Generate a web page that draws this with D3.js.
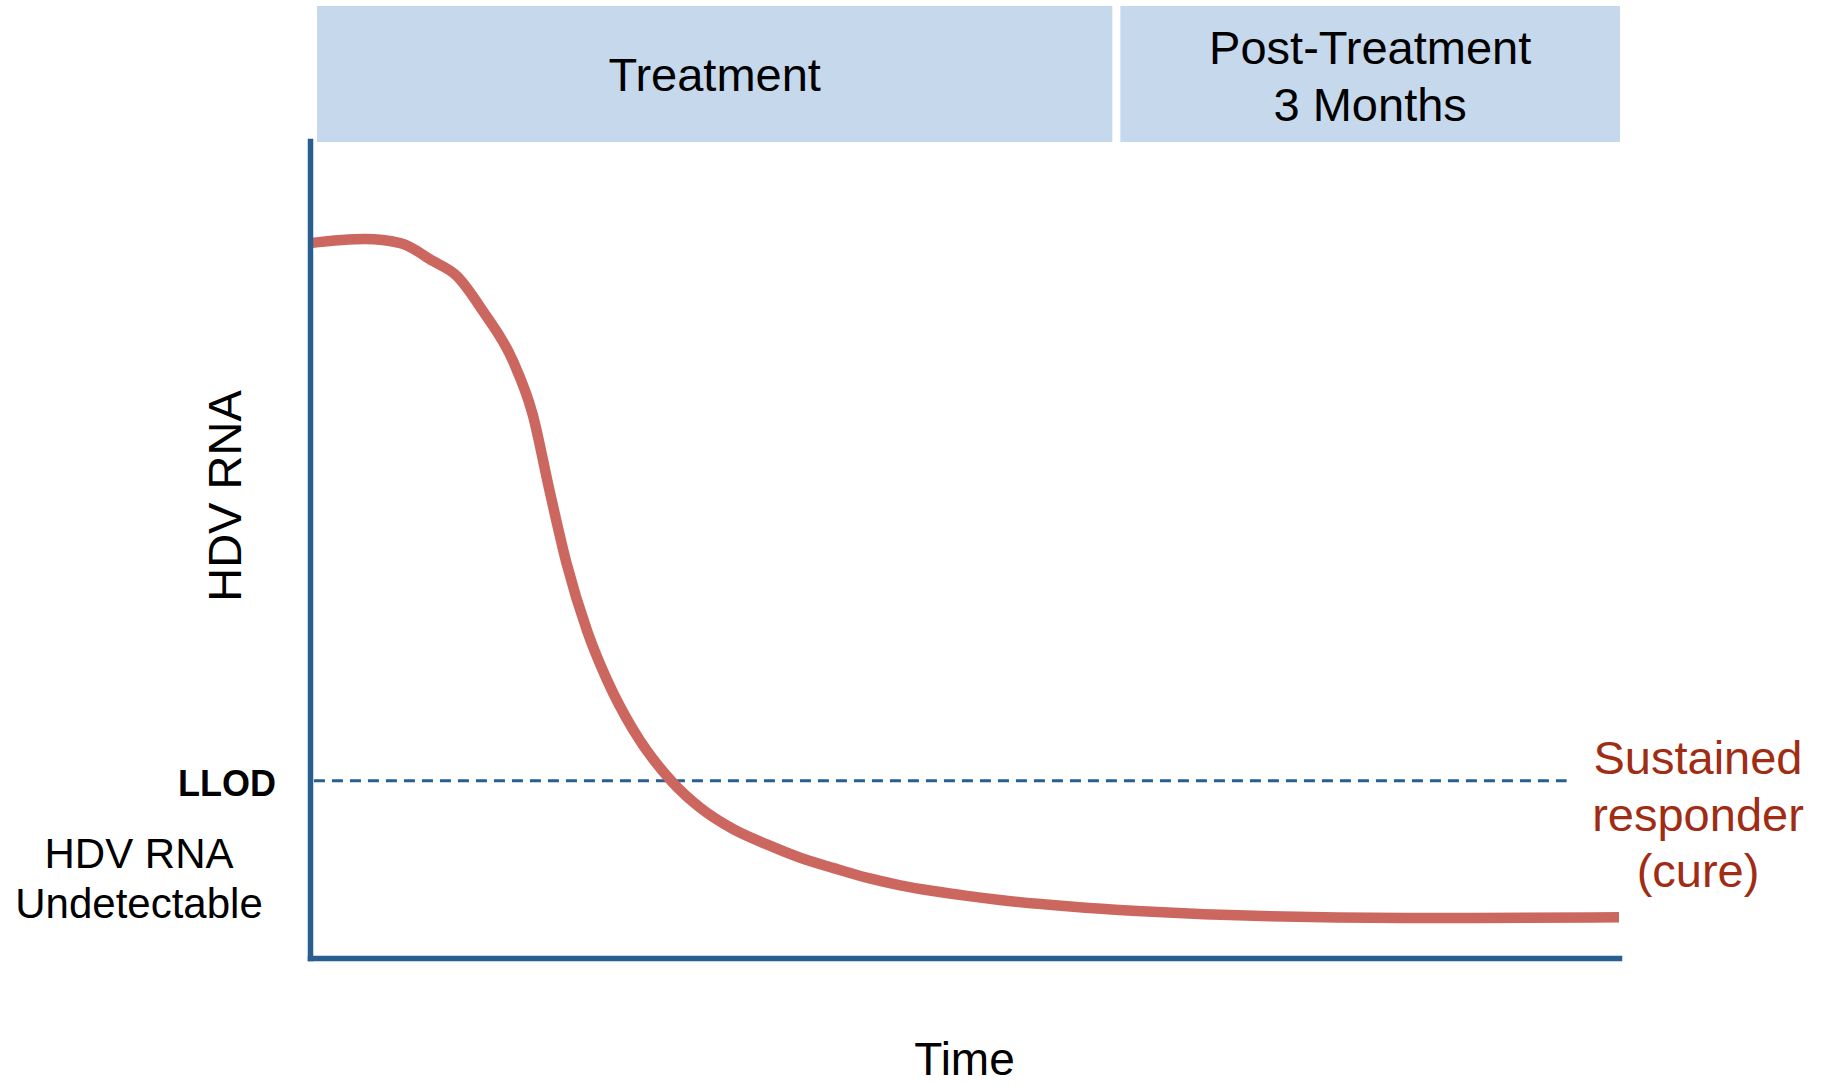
<!DOCTYPE html>
<html>
<head>
<meta charset="utf-8">
<script src="https://cdn.jsdelivr.net/npm/d3@7"></script>
<style>
  html, body { margin: 0; padding: 0; background: #ffffff; }
  svg { display: block; }
  text { font-family: "Liberation Sans", Arial, sans-serif; }
</style>
</head>
<body>
<svg id="chart" width="1826" height="1084"></svg>
<script>
// ---- data ----
const timePoints = [0, 4.2, 6.9, 9.4, 11.2, 13.2, 15.5, 17.0, 18.3, 19.6, 21.2, 22.7, 24.7, 27.7, 29.8, 32.3, 34.9, 37.4, 40.0, 42.6, 45.1, 47.6, 50.2, 52.7, 58.1, 63.2, 68.3, 73.4, 78.5, 83.7, 88.8, 100];
const hdvRna     = [87.5, 88.0, 87.5, 85.3, 83.5, 79.2, 73.1, 66.6, 57.2, 48.3, 39.9, 34.0, 27.9, 21.5, 18.4, 15.8, 13.9, 12.3, 11.0, 9.8, 8.9, 8.2, 7.6, 7.1, 6.3, 5.75, 5.35, 5.1, 4.95, 4.9, 4.9, 5.0];
const llodValue = 21.7;
const llodStart = 0.3, llodEnd = 96.0;
const phaseLabels = [["Treatment"], ["Post-Treatment", "3 Months"]];
const phaseStart = [0, 61.6];
const phaseEnd = [61.6, 100];
const yAxisLabel = "HDV RNA";
const xAxisLabel = "Time";
const llodLabel = "LLOD";
const undetectableLabel = ["HDV RNA", "Undetectable"];
const responderLabel = ["Sustained", "responder", "(cure)"];

// ---- layout ----
const svg = d3.select("#chart");
const x = d3.scaleLinear().domain([0, 100]).range([310, 1619]);
const y = d3.scaleLinear().domain([0, 100]).range([958, 141]);
const axisColor = "#295e91";
const curveColor = "#cc6760";
const boxColor = "#c6d8eb";

// phase header boxes
const phases = phaseLabels.map((l, i) => ({ lines: l, s: phaseStart[i], e: phaseEnd[i], i }));
const boxTop = 6, boxBottom = 142;
const pg = svg.append("g");
phases.forEach(p => {
  const x0 = p.i === 0 ? x(p.s) + 7 : x(p.s) + 4;
  const x1 = p.i === 0 ? x(p.e) - 4 : x(p.e) + 1;
  pg.append("rect")
    .attr("x", x0).attr("y", boxTop)
    .attr("width", x1 - x0).attr("height", boxBottom - boxTop)
    .attr("fill", boxColor);
  const cx = (x0 + x1) / 2;
  const n = p.lines.length;
  const lh = 57;
  const baseY = n === 1 ? 91 : 64;
  p.lines.forEach((t, k) => {
    pg.append("text")
      .attr("x", cx).attr("y", baseY + k * lh)
      .attr("text-anchor", "middle")
      .attr("font-size", 47)
      .attr("fill", "#000")
      .text(t);
  });
});

// LLOD dashed line
svg.append("line")
  .attr("x1", x(llodStart)).attr("x2", x(llodEnd))
  .attr("y1", y(llodValue)).attr("y2", y(llodValue))
  .attr("stroke", axisColor)
  .attr("stroke-width", 3)
  .attr("stroke-dasharray", "11,7");

// curve
const data = timePoints.map((t, i) => [t, hdvRna[i]]);
const line = d3.line()
  .x(d => x(d[0]))
  .y(d => y(d[1]))
  .curve(d3.curveMonotoneX);
svg.append("path")
  .datum(data)
  .attr("d", line)
  .attr("fill", "none")
  .attr("stroke", curveColor)
  .attr("stroke-width", 10.5);

// axes
const yAxis = d3.axisLeft(y).tickValues([]).tickSizeOuter(0);
const xAxis = d3.axisBottom(x).tickValues([]).tickSizeOuter(0);
const gy = svg.append("g").attr("transform", `translate(${x(0)},0)`).call(yAxis);
const gx = svg.append("g").attr("transform", `translate(0,${y(0)})`).call(xAxis);
[gx, gy].forEach(g => g.select(".domain")
  .attr("stroke", axisColor)
  .attr("stroke-width", 5.5)
  .attr("stroke-linecap", "square"));

// axis titles
svg.append("text")
  .attr("transform", `translate(241,496) rotate(-90)`)
  .attr("text-anchor", "middle")
  .attr("font-size", 47)
  .attr("fill", "#000")
  .text(yAxisLabel);

svg.append("text")
  .attr("x", x(50)).attr("y", 1075)
  .attr("text-anchor", "middle")
  .attr("font-size", 46)
  .attr("fill", "#000")
  .text(xAxisLabel);

// LLOD label
svg.append("text")
  .attr("x", 276).attr("y", y(llodValue) + 15)
  .attr("text-anchor", "end")
  .attr("font-size", 36)
  .attr("font-weight", "bold")
  .attr("fill", "#000")
  .text(llodLabel);

// undetectable label
undetectableLabel.forEach((t, k) => {
  svg.append("text")
    .attr("x", 139).attr("y", 868 + k * 50)
    .attr("text-anchor", "middle")
    .attr("font-size", 42)
    .attr("fill", "#000")
    .text(t);
});

// responder label
responderLabel.forEach((t, k) => {
  svg.append("text")
    .attr("x", 1698).attr("y", 774 + k * 56.5)
    .attr("text-anchor", "middle")
    .attr("font-size", 47)
    .attr("fill", "#a02c14")
    .text(t);
});
</script>
</body>
</html>
